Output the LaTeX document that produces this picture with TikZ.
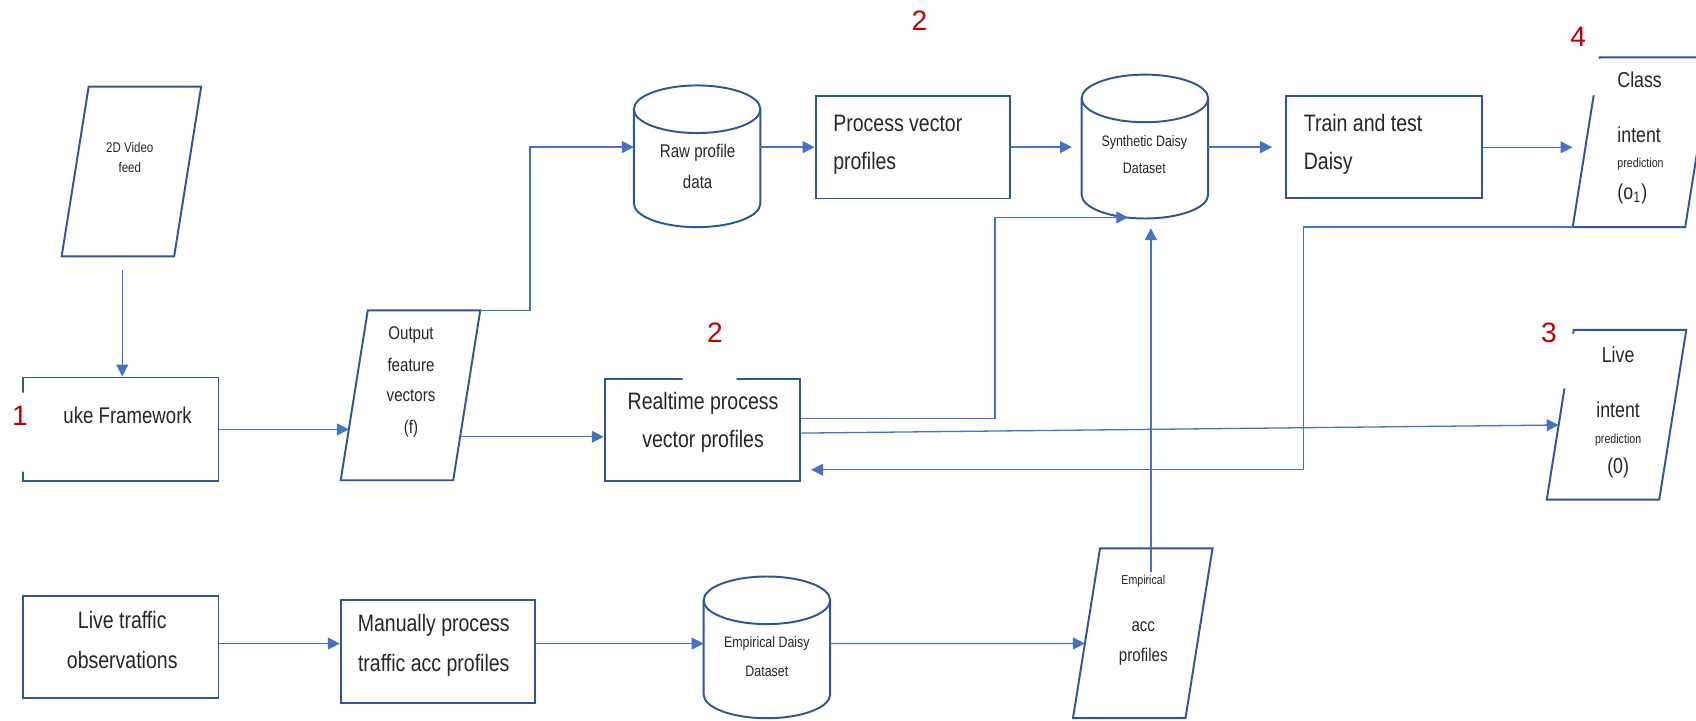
\documentclass[tikz,border=0pt]{standalone}
\usepackage{fontspec}
\setmainfont[FakeStretch=0.82]{Liberation Sans}
\newfontfamily\numfont{Liberation Sans}
\usetikzlibrary{arrows.meta,calc}
\definecolor{shpcol}{HTML}{2F5597}
\definecolor{lincol}{HTML}{4472C4}
\definecolor{numcol}{HTML}{C00000}
\definecolor{txtcol}{HTML}{262626}
\newcommand\fbig{\fontsize{11}{13}\selectfont}
\newcommand\fuke{\fontsize{10.5}{12}\selectfont}
\newcommand\fcls{\fontsize{10}{12}\selectfont}
\newcommand\fmid{\fontsize{8.5}{10}\selectfont}
\newcommand\fsml{\fontsize{7}{8}\selectfont}
\newcommand\fvid{\fontsize{6.5}{8}\selectfont}
\newcommand\ftny{\fontsize{6}{7}\selectfont}
\tikzset{
	shp/.style={draw=shpcol,line width=0.9pt},
	box/.style={shp,rectangle,inner sep=0pt},
	conn/.style={draw=lincol,line width=0.6pt,-{Triangle[length=5.5pt,width=5.5pt]}},
	lbl/.style={inner sep=0pt,text=txtcol},
	num/.style={inner sep=0pt,text=numcol,font=\numfont\fontsize{13}{15}\selectfont},
}
\begin{document}
\begin{tikzpicture}[x=0.5pt,y=0.5pt]
	\clip (0,0) rectangle (1568,666);
	% parallelograms
	\foreach \n/\x/\y in {vid/57/429,out/315/222,cls/1454/456,live/1430/204,acc/992/2}{
		\path (\x,\y) coordinate (\n-bl) ++(104,0) coordinate (\n-br)
			++(25,157) coordinate (\n-tr) ++(-104,0) coordinate (\n-tl);
		\draw[shp] (\n-bl)--(\n-br)--(\n-tr)--(\n-tl)--cycle;
	}
	% databases
	\foreach \n/\cx/\yt/\yb/\ym in {raw/644.5/587/456/530,syn/1058.5/597/464/530,emp/709/133/2/71}{
		\draw[shp] (\cx,\yt-22) ellipse (58.5 and 22);
		\draw[shp] (\cx-58.5,\yt-22) -- (\cx-58.5,\yb+22) arc (180:360:58.5 and 22) -- (\cx+58.5,\yt-22);
		\path (\cx-58.5,\ym) coordinate (\n-w) (\cx+58.5,\ym) coordinate (\n-e) (\cx,\yb) coordinate (\n-s);
	}
	% process boxes
	\node[box,minimum width=90.5pt,minimum height=48pt] (uke) at (111.5,269) {};
	\node[box,minimum width=90pt,minimum height=47.5pt] (proc) at (844,530) {};
	\node[box,minimum width=90.5pt,minimum height=47pt] (train) at (1279.5,530) {};
	\node[box,minimum width=90.5pt,minimum height=47.5pt] (rt) at (649.5,268.5) {};
	\node[box,minimum width=90.5pt,minimum height=47pt] (lt) at (111.5,68) {};
	\node[box,minimum width=90pt,minimum height=47.5pt] (mp) at (405,63.5) {};
	\fill[white] (18,230) rectangle (24,303) (631,313) rectangle (681,320)
		(1466,578) rectangle (1483,611.5) (1440,307) rectangle (1459,357.5);
	% step numbers
	\node[num] (n1) at (18.5,282) {1};
	\node[num] (n2a) at (850,647) {2};
	\node[num] (n2b) at (661,358) {2};
	\node[num] (n3) at (1432,358) {3};
	\node[num] (n4) at (1459,632) {4};
	% texts
	\foreach \x/\y/\f/\an/\txt [count=\i] in {
		120/530/\fvid/center/2D Video, 120/511/\fvid/center/feed,
		118/282/\fuke/center/uke Framework,
		380/356/\fmid/center/Output, 380/329/\fmid/center/feature,
		380/300/\fmid/center/vectors, 380/270/\fmid/center/(f),
		645/525/\fmid/center/Raw profile, 645/498/\fmid/center/data,
		770/552/\fbig/west/Process vector, 770/515/\fbig/west/profiles,
		1058/534/\fsml/center/Synthetic Daisy, 1058/510/\fsml/center/Dataset,
		1205/552/\fbig/west/Train and test, 1205/515/\fbig/west/Daisy,
		1495/592/\fcls/west/Class, 1495/541/\fcls/west/intent,
		1495/514/\ftny/west/prediction, 1495/487/\fcls/west/(o\textsubscript{1}),
		650/293/\fbig/center/Realtime process, 650/258/\fbig/center/vector profiles,
		1496/338/\fcls/center/Live, 1496/287/\fcls/center/intent,
		1496/259/\ftny/center/prediction, 1496/233/\fcls/center/(0),
		113/93/\fbig/center/Live traffic, 113/56/\fbig/center/observations,
		401/88/\fbig/center/Manually process, 401/51/\fbig/center/traffic acc profiles,
		709/71/\fsml/center/Empirical Daisy, 709/45/\fsml/center/Dataset,
		1057/129/\ftny/center/Empirical, 1057/87/\fmid/center/acc, 1057/59/\fmid/center/profiles}{
		\node[lbl,font=\f,anchor=\an] (t\i) at (\x,\y) {\txt};
	}
	% connectors
	\coordinate (vid-s) at (113,416);
	\coordinate (out-in) at ($(out-bl)!.3!(out-tl)$);
	\coordinate (out-out) at ($(out-br)!.256!(out-tr)$);
	\coordinate (cls-in) at ($(cls-bl)!.47!(cls-tl)$);
	\coordinate (live-in) at ($(live-bl)!.44!(live-tl)$);
	\coordinate (acc-in) at ($(acc-bl)!.44!(acc-tl)$);
	\coordinate (acc-top) at (1064,137);
	\coordinate (syn-b) at (1043,465);
	\draw[conn] (vid-s) -- (vid-s |- uke.north);
	\draw[conn] (uke.east) -- (uke.east -| out-in);
	\draw[conn] (out-tr) -- ++(46,0) |- (raw-w);
	\draw[conn] (raw-e) -- (raw-e -| proc.west);
	\draw[conn,shorten >=4.5pt] (proc.east |- syn-w) -- (syn-w);
	\draw[conn,shorten >=6pt] (syn-e) -- (syn-e -| train.west);
	\draw[conn,shorten >=6pt] (train.east |- cls-in) -- (cls-in);
	\draw[conn] (out-out) -- (out-out -| rt.west);
	\draw[conn] ($(rt.north east)!.39!(rt.south east)$) -- ++(179,0) |- (syn-b);
	\draw[conn] ($(rt.north east)!.53!(rt.south east)$) -- (live-in);
	\draw[conn,shorten >=4.5pt] (cls-bl) -- ++(-249,0) |- ($(rt.north east)!.88!(rt.south east)$);
	\draw[conn,shorten >=4.5pt] (acc-top) -- (acc-top |- syn-s);
	\draw[conn] (lt.east |- emp-w) -- (mp.west |- emp-w);
	\draw[conn] (mp.east |- emp-w) -- (emp-w);
	\draw[conn] (emp-e) -- (acc-in);
\end{tikzpicture}
\end{document}
